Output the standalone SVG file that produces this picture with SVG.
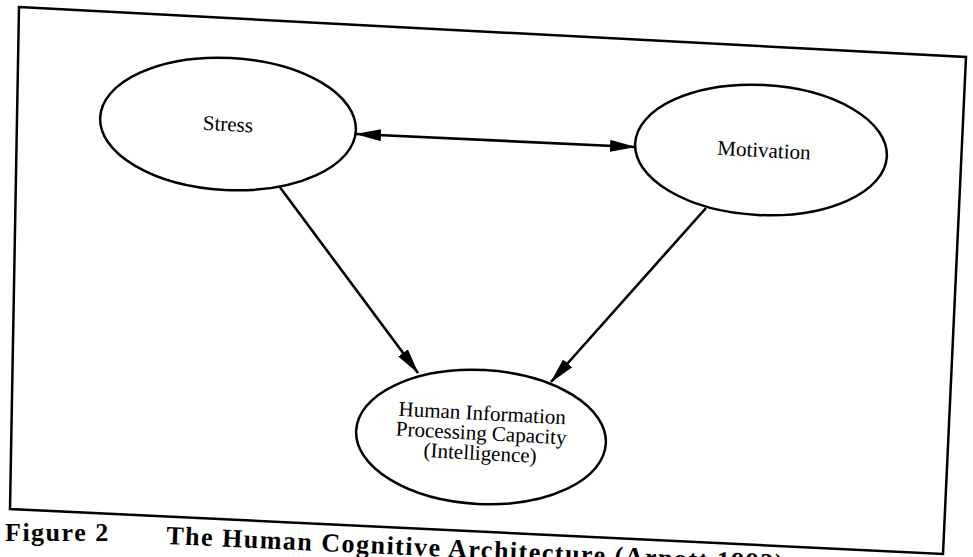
<svg xmlns="http://www.w3.org/2000/svg" width="973" height="557" viewBox="0 0 973 557">
<defs>
<style>
.node ellipse{fill:#fff;stroke:#000;stroke-width:2.5}
.lbl{font-family:"Liberation Serif","Times New Roman",serif;font-size:21px;fill:#000;text-anchor:middle}
.edge{stroke:#000;stroke-width:2.6;fill:none}
.cap{font-family:"Liberation Serif","Times New Roman",serif;font-weight:bold;fill:#000}
</style>
<marker id="ah" markerUnits="userSpaceOnUse" markerWidth="26" markerHeight="12" refX="25" refY="6" orient="auto-start-reverse" viewBox="0 0 26 12">
<path d="M0,0 L26,6 L0,12 Z" fill="#000"/>
</marker>
</defs>
<rect width="973" height="557" fill="#fff"/>
<polygon id="frame" points="19,7 966,57 943,554 10,509" fill="none" stroke="#000" stroke-width="2.5"/>
<g id="connectors">
<line class="edge" x1="356" y1="134" x2="635" y2="147" marker-start="url(#ah)" marker-end="url(#ah)"/>
<line class="edge" x1="279" y1="186" x2="418" y2="373" marker-end="url(#ah)"/>
<line class="edge" x1="706" y1="208" x2="551" y2="382" marker-end="url(#ah)"/>
</g>
<g id="stress" class="node" transform="rotate(3 228 124)">
<ellipse cx="228" cy="124" rx="128" ry="66"/>
<text class="lbl" x="228" y="131">Stress</text>
</g>
<g id="motivation" class="node" transform="rotate(3 761 150)">
<ellipse cx="761" cy="150" rx="126" ry="65"/>
<text class="lbl" x="764" y="157">Motivation</text>
</g>
<g id="hipc" class="node" transform="rotate(3 481 437)">
<ellipse cx="481" cy="437" rx="125" ry="67"/>
<text class="lbl" x="481" y="420">Human Information</text>
<text class="lbl" x="481" y="440">Processing Capacity</text>
<text class="lbl" x="481" y="460">(Intelligence)</text>
</g>
<g id="caption">
<text class="cap" x="5" y="541" font-size="26" letter-spacing="1.5">Figure 2</text>
<text class="cap" x="166" y="544" font-size="26" letter-spacing="1.5" transform="rotate(2.6 166 544)">The Human Cognitive Architecture (Arnott 1993)</text>
</g>
</svg>
